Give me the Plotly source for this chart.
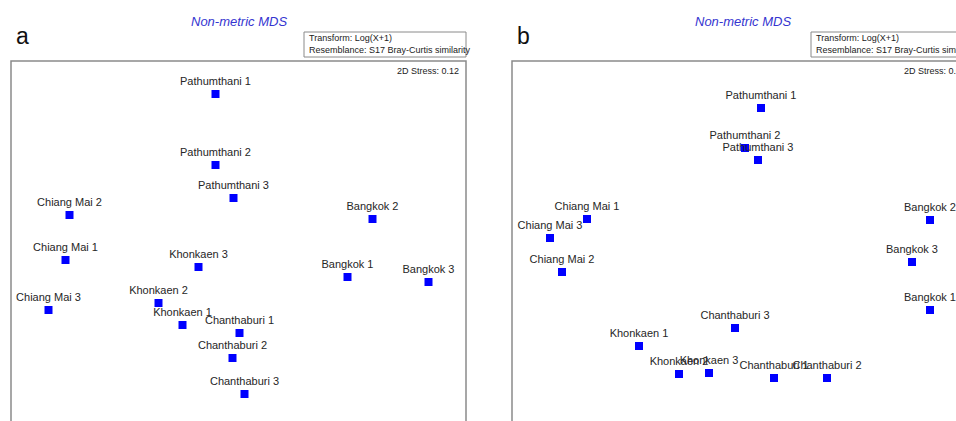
import plotly.graph_objects as go

# ---- NMDS ordination coordinates (panel a) ----
sites_a = ["Pathumthani 1", "Pathumthani 2", "Pathumthani 3",
           "Chiang Mai 2", "Chiang Mai 1", "Chiang Mai 3",
           "Khonkaen 3", "Khonkaen 2", "Khonkaen 1",
           "Bangkok 2", "Bangkok 1", "Bangkok 3",
           "Chanthaburi 1", "Chanthaburi 2", "Chanthaburi 3"]
mds1_a = [-0.23, -0.23, -0.05, -1.69, -1.73, -1.90, -0.40, -0.80, -0.56,
          1.34, 1.09, 1.90, 0.01, -0.06, 0.06]
mds2_a = [1.47, 0.76, 0.43, 0.26, -0.19, -0.69, -0.26, -0.62, -0.84,
          0.22, -0.36, -0.41, -0.92, -1.17, -1.53]
stress_a = "0.12"

# ---- NMDS ordination coordinates (panel b) ----
sites_b = ["Pathumthani 1", "Pathumthani 2", "Pathumthani 3",
           "Chiang Mai 1", "Chiang Mai 3", "Chiang Mai 2",
           "Bangkok 2", "Bangkok 3", "Bangkok 1",
           "Chanthaburi 3", "Khonkaen 1", "Khonkaen 2", "Khonkaen 3",
           "Chanthaburi 1", "Chanthaburi 2"]
mds1_b = [0.21, 0.05, 0.18, -1.53, -1.90, -1.78, 1.90, 1.72, 1.90,
          -0.05, -1.01, -0.61, -0.31, 0.34, 0.87]
mds2_b = [1.33, 0.93, 0.81, 0.22, 0.03, -0.31, 0.21, -0.21, -0.69,
          -0.87, -1.05, -1.33, -1.32, -1.37, -1.37]
stress_b = "0.08"

panel_letters = ["a", "b"]
plot_title = "Non-metric MDS"
transform_text = "Transform: Log(X+1)"
resemblance_text = "Resemblance: S17 Bray-Curtis similarity"

W, H = 956, 421
FONT = "Liberation Sans, Arial, sans-serif"
FRAME = "#8a8a8a"


def px(x):
    return x / W


def py(y):
    return 1 - y / H


fig = go.Figure()

for sites, xs, ys, xa, ya in [(sites_a, mds1_a, mds2_a, "x", "y"),
                              (sites_b, mds1_b, mds2_b, "x2", "y2")]:
    fig.add_trace(go.Scatter(
        x=xs, y=ys, text=sites, mode="markers+text",
        textposition="top center",
        textfont=dict(family=FONT, size=11, color="#262626"),
        marker=dict(symbol="square", size=8, color="#0000ff",
                    line=dict(width=0)),
        cliponaxis=False, hoverinfo="text", showlegend=False,
        xaxis=xa, yaxis=ya))

# panel geometry (pixels): left, right of frame; shared top
panels = [dict(l=11, r=466, top=61, stress=stress_a),
          dict(l=512, r=973, top=61, stress=stress_b)]

axis_common = dict(visible=False, fixedrange=True)
fig.update_layout(
    xaxis=dict(domain=[px(11), px(466)], range=[-2.275, 2.275], **axis_common),
    yaxis=dict(domain=[0, py(61)], range=[-1.8, 1.8], **axis_common),
    xaxis2=dict(domain=[px(512), 1], range=[-2.28, 2.16], anchor="y2",
                **axis_common),
    yaxis2=dict(domain=[0, py(61)], range=[-1.8, 1.8], anchor="x2",
                **axis_common),
)

shapes, annotations = [], []
for letter, p in zip(panel_letters, panels):
    l, r, t = p["l"], p["r"], p["top"]
    cx = (l + r) / 2
    # open-bottom frame around the ordination
    shapes.append(dict(type="path", xref="paper", yref="paper",
                       path=f"M {px(l)} {py(H + 5)} L {px(l)} {py(t)} "
                            f"L {px(r)} {py(t)} L {px(r)} {py(H + 5)}",
                       line=dict(color=FRAME, width=1.5)))
    # transform / resemblance box
    bl = r - 162
    shapes.append(dict(type="rect", xref="paper", yref="paper",
                       x0=px(bl), x1=px(r), y0=py(57), y1=py(32),
                       line=dict(color=FRAME, width=1), fillcolor="white"))
    annotations += [
        dict(text=letter, x=px(l + 11), y=py(36), xref="paper", yref="paper",
             xanchor="center", yanchor="middle", showarrow=False,
             font=dict(family=FONT, size=23, color="#111")),
        dict(text=f"<i>{plot_title}</i>", x=px(cx), y=py(22), xref="paper",
             yref="paper", xanchor="center", yanchor="middle",
             showarrow=False, font=dict(family=FONT, size=13, color="#3535d0")),
        dict(text=transform_text, x=px(bl + 3), y=py(38.5), xref="paper",
             yref="paper", xanchor="left", yanchor="middle", showarrow=False,
             font=dict(family=FONT, size=9, color="#222")),
        dict(text=resemblance_text, x=px(bl + 3), y=py(50.5), xref="paper",
             yref="paper", xanchor="left", yanchor="middle", showarrow=False,
             font=dict(family=FONT, size=9, color="#222")),
        dict(text=f"2D Stress: {p['stress']}", x=px(r - 5), y=py(71),
             xref="paper", yref="paper", xanchor="right", yanchor="middle",
             showarrow=False, font=dict(family=FONT, size=9, color="#222")),
    ]

fig.update_layout(
    width=W, height=H, margin=dict(l=0, r=0, t=0, b=0),
    paper_bgcolor="white", plot_bgcolor="white",
    shapes=shapes, annotations=annotations,
)

fig.write_html("out.html")
